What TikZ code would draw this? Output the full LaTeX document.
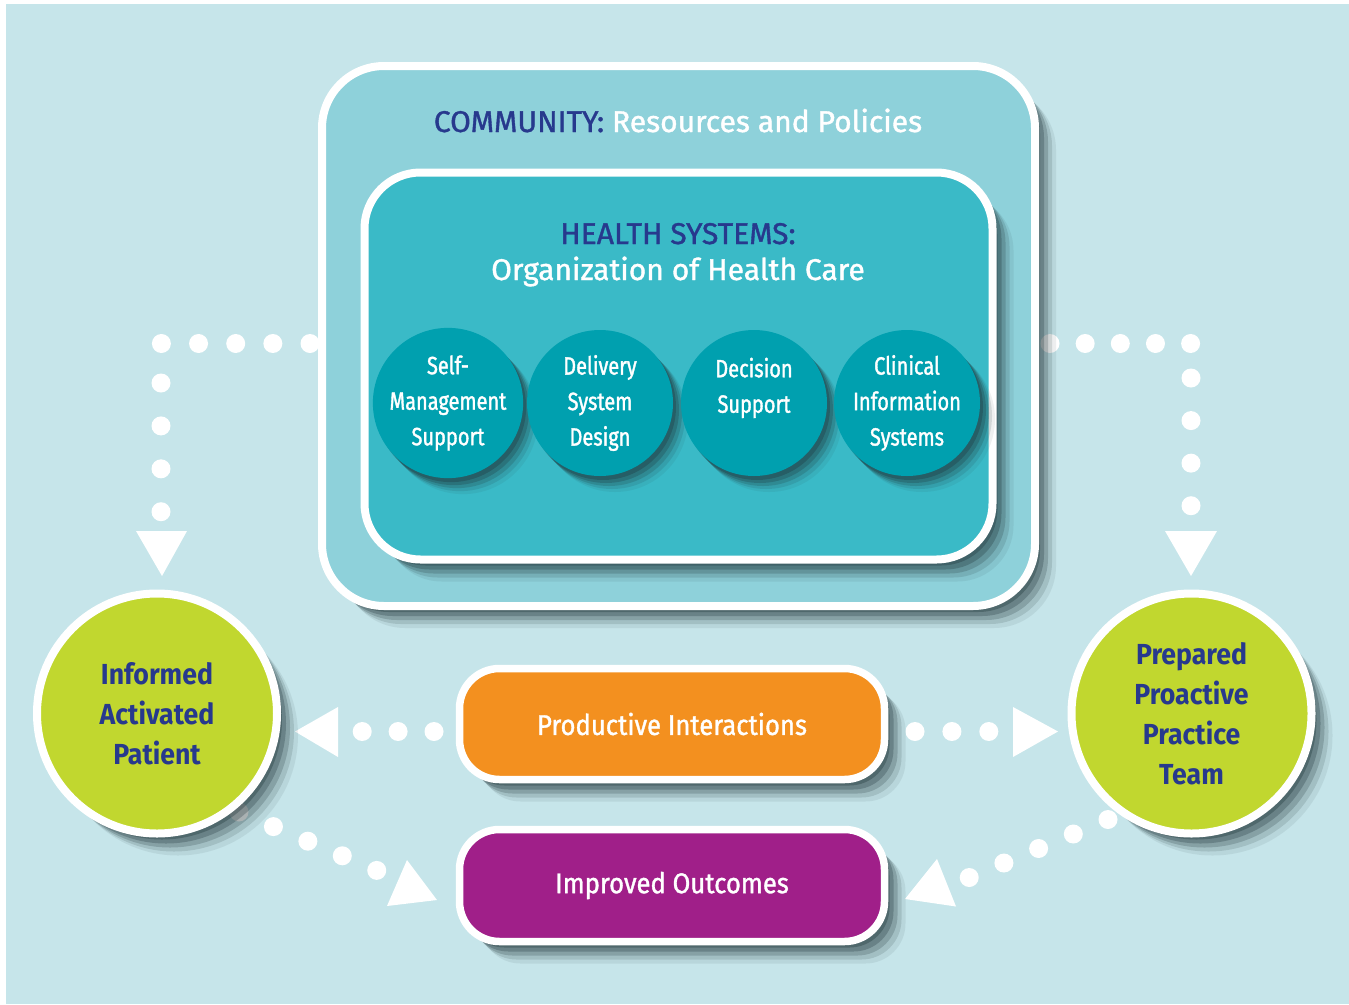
\documentclass[tikz,border=0pt]{standalone}
\usepackage{fontspec}
\setmainfont{Fira Sans}
\newfontfamily\mainf[FakeStretch=0.9,FakeBold=1.2]{Fira Sans}
\newfontfamily\titlef[FakeBold=1.2]{Fira Sans}
\newfontfamily\condf[FakeStretch=0.8,FakeBold=1.4]{Fira Sans}
\newfontfamily\boldf[FakeStretch=0.92]{Fira Sans Bold}
\usetikzlibrary{shadows}
\definecolor{bgc}{HTML}{C6E5EA}
\definecolor{commc}{HTML}{8ED1DA}
\definecolor{healthc}{HTML}{3ABAC7}
\definecolor{tealc}{HTML}{00A0AF}
\definecolor{navyc}{HTML}{27398D}
\definecolor{greenc}{HTML}{C1D72F}
\definecolor{orangec}{HTML}{F3901F}
\definecolor{purplec}{HTML}{A01F89}
\definecolor{shadc}{HTML}{1E3236}
\tikzset{
  shad/.style={
    drop shadow={shadow xshift=5pt, shadow yshift=-6pt, fill=shadc, opacity=.32},
    drop shadow={shadow xshift=9pt, shadow yshift=-10pt, fill=shadc, opacity=.27},
    drop shadow={shadow xshift=13pt, shadow yshift=-14pt, fill=shadc, opacity=.21},
    drop shadow={shadow xshift=17pt, shadow yshift=-18pt, fill=shadc, opacity=.14},
    drop shadow={shadow xshift=21pt, shadow yshift=-22pt, fill=shadc, opacity=.08}},
  smallshad/.style={
    drop shadow={shadow xshift=3pt, shadow yshift=-4pt, fill=shadc, opacity=.3},
    drop shadow={shadow xshift=6pt, shadow yshift=-7pt, fill=shadc, opacity=.25},
    drop shadow={shadow xshift=9pt, shadow yshift=-10pt, fill=shadc, opacity=.19},
    drop shadow={shadow xshift=12pt, shadow yshift=-13pt, fill=shadc, opacity=.13},
    drop shadow={shadow xshift=15pt, shadow yshift=-16pt, fill=shadc, opacity=.07}},
  bigbox/.style={draw=white, line width=8pt, shad, inner sep=0pt},
  elem/.style={circle, fill=tealc, minimum size=146pt, inner sep=0pt, smallshad, text=white, align=center,
    font=\condf\fontsize{25}{35.5}\selectfont},
  role/.style={circle, fill=greenc, draw=white, line width=8pt, minimum size=240pt, inner sep=0pt, shad,
    text=navyc, align=center, font=\boldf\fontsize{29}{40}\selectfont},
  outbox/.style={rounded corners=40pt, draw=white, line width=7.5pt, minimum width=425pt, inner sep=0pt,
    shad, text=white, font=\mainf\fontsize{28.5}{34}\selectfont},
  dotline/.style={white, line width=19pt, line cap=round, dash pattern=on 0pt off #1},
  tri/.style={fill=white},
  title/.style={anchor=base, font=\titlef\fontsize{30}{36}\selectfont, text=white}
}
\begin{document}
\begin{tikzpicture}[x=1pt,y=-1pt]
\useasboundingbox (0,0) rectangle (1349,1004);
\fill[white] (0,0) rectangle (1349,1004);
\fill[bgc] (6,4) rectangle (1349,1004);

% dotted connectors
\coordinate (tla) at (310,343.5);
\coordinate (tlb) at (161,343.5);
\coordinate (tlc) at (161,383);
\coordinate (tld) at (161,512);
\coordinate (tra) at (1050,343.5);
\coordinate (trb) at (1191,343.5);
\coordinate (trc) at (1191,378);
\coordinate (trd) at (1191,506);
\coordinate (mla) at (434,731.5);
\coordinate (mlb) at (362,731.5);
\coordinate (mra) at (915,731.5);
\coordinate (mrb) at (989,731.5);
\coordinate (bla) at (239,812);
\coordinate (blb) at (377,870.5);
\coordinate (bra) at (1108,819.5);
\coordinate (brb) at (969,877.6);

\draw[dotline=37.15pt] (tla) -- (tlb);
\draw[dotline=42.9pt] (tlc) -- (tld);
\draw[dotline=35.15pt] (tra) -- (trb);
\draw[dotline=42.57pt] (trc) -- (trd);
\draw[dotline=35.9pt] (mla) -- (mlb);
\draw[dotline=36.9pt] (mra) -- (mrb);
\draw[dotline=37.4pt] (bla) -- (blb);
\draw[dotline=37.6pt] (bra) -- (brb);

% arrowheads
\fill[tri] (136,531) -- (187,531) -- (162,576) -- cycle;
\fill[tri] (1165,531) -- (1217,531) -- (1191,576) -- cycle;
\fill[tri] (338,707) -- (338,757) -- (295,731.5) -- cycle;
\fill[tri] (1013,707) -- (1013,757) -- (1058,731.5) -- cycle;
\fill[tri] (407,860) -- (387,906) -- (437,900) -- cycle;
\fill[tri] (937,859) -- (956,906.5) -- (905,899) -- cycle;

% community and health systems boxes
\node[bigbox, fill=commc, rounded corners=62pt, minimum width=713pt, minimum height=540pt] (comm) at (678.5,336) {};
\node[bigbox, fill=healthc, rounded corners=56pt, minimum width=628pt, minimum height=387pt] (health) at (678.5,366) {};

\node[title] (commtitle) at (678,132) {\textcolor{navyc}{COMMUNITY:} Resources and Policies};
\node[title, text=navyc] (hstitle) at (678,244) {HEALTH SYSTEMS:};
\node[title] (hssub) at (678,280) {Organization of Health Care};

% elements
\node[elem] (sms) at (448,403) {Self-\\Management\\Support};
\node[elem] (dsd) at (600,403) {Delivery\\System\\Design};
\node[elem] (dsu) at (754,403) {Decision\\Support\\~};
\node[elem] (cis) at (907,403) {Clinical\\Information\\Systems};

% roles
\node[role] (pat) at (157,713.5) {Informed\\Activated\\Patient};
\node[role] (team) at (1191.5,713.5) {Prepared\\Proactive\\Practice\\Team};

% outcome boxes
\node[outbox, fill=orangec, minimum height=111pt] (pi) at (672,724) {Productive Interactions};
\node[outbox, fill=purplec, minimum height=112pt] (io) at (672,885.5) {Improved Outcomes};
\end{tikzpicture}
\end{document}
